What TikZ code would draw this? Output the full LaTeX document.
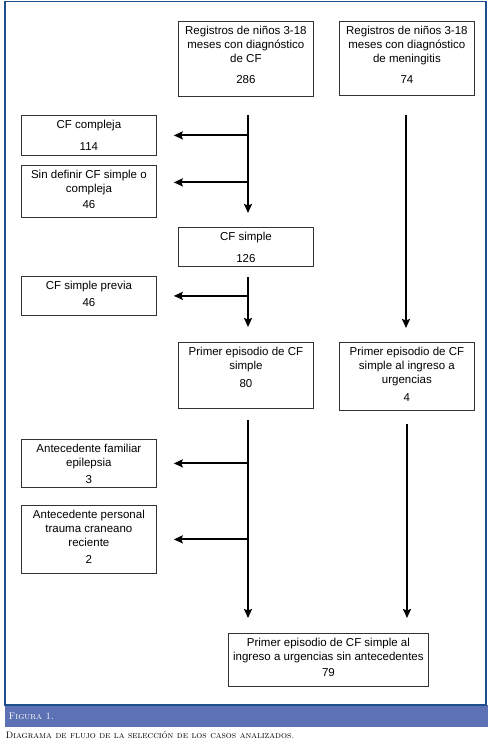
\documentclass[tikz,border=0pt]{standalone}
\usepackage{fontspec}
\newfontfamily\arial{Liberation Sans}
\usepackage{tikz}
\usetikzlibrary{arrows.meta}
\definecolor{marco}{RGB}{31,78,140}
\definecolor{banda}{RGB}{92,114,181}
\tikzset{%
    caja/.style={draw=black!80,line width=0.8pt,inner sep=0pt,anchor=north west,
        font=\arial\fontsize{11.5}{14}\selectfont},
    flecha/.style={line width=2pt,-{Stealth[length=9pt,width=8pt,inset=1.5pt]}}
}
\newcommand{\texto}[3]{\parbox[c][#2pt][t]{#1pt}{\centering\vspace*{4.5pt}#3}}

\begin{document}
\begin{tikzpicture}[x=1pt,y=-1pt]
            \useasboundingbox (0,0) rectangle (491,743);
            \fill[banda] (5,705) rectangle (488,727);
            \draw[marco,line width=1.5pt] (5,1.5) rectangle (486,705);
            \node[anchor=west,text=white,font=\fontsize{9.6}{10}\selectfont\scshape] (fig) at (5,716) {Figura 1.};
            \node[anchor=west,font=\fontsize{9.4}{10}\selectfont\scshape] (leyenda) at (2,735) {Diagrama de flujo de la selección de los casos analizados.};

            \node[caja] (reg) at (178,21) {\texto{135}{75}{Registros de niños 3-18\\meses con diagnóstico\\de CF\\[7pt]286}};
            \node[caja] (men) at (339,21) {\texto{135}{74}{Registros de niños 3-18\\meses con diagnóstico\\de meningitis\\[7pt]74}};
            \node[caja] (compleja) at (21,115) {\texto{135}{40}{CF compleja\\[8pt]114}};
            \node[caja] (sindef) at (21,165) {\texto{135}{52}{Sin definir CF simple o\\compleja\\[2pt]46}};
            \node[caja] (simple) at (178,227) {\texto{135}{39}{CF simple\\[8pt]126}};
            \node[caja] (previa) at (21,276) {\texto{135}{39}{CF simple previa\\[3pt]46}};
            \node[caja] (primer) at (178,342) {\texto{135}{66}{Primer episodio de CF\\simple\\[4pt]80}};
            \node[caja] (primerurg) at (339,342) {\texto{135}{68}{Primer episodio de CF\\simple al ingreso a\\urgencias\\[4pt]4}};
            \node[caja] (familiar) at (21,439) {\texto{135}{48}{Antecedente familiar\\epilepsia\\[3pt]3}};
            \node[caja] (personal) at (21,505) {\texto{135}{68}{Antecedente personal\\trauma craneano\\reciente\\[3pt]2}};
            \node[caja] (final) at (228,633) {\texto{200}{53}{Primer episodio de CF simple al\\ingreso a urgencias sin antecedentes\\[2pt]79}};

            \coordinate (a1) at (248,115);
            \coordinate (a2) at (248,213);
            \coordinate (a3) at (248,277);
            \coordinate (a4) at (248,327);
            \coordinate (a5) at (248,420);
            \coordinate (a6) at (248,618);
            \coordinate (b1) at (406,115);
            \coordinate (b2) at (406,328);
            \coordinate (b3) at (407,424);
            \coordinate (b4) at (407,618);
            \coordinate (r2) at ([xshift=17pt,yshift=9pt]sindef.east);

            \draw[flecha] (a1) -- (a2);
            \draw[flecha] (a1 |- compleja.east) -- ([xshift=17pt]compleja.east);
            \draw[flecha] (a1 |- r2) -- (r2);
            \draw[flecha] (a3) -- (a4);
            \draw[flecha] (a3 |- previa.east) -- ([xshift=17pt]previa.east);
            \draw[flecha] (a5) -- (a6);
            \draw[flecha] (a5 |- familiar.east) -- ([xshift=17pt]familiar.east);
            \draw[flecha] (a5 |- personal.east) -- ([xshift=17pt]personal.east);
            \draw[flecha] (b1) -- (b2);
            \draw[flecha] (b3) -- (b4);
        \end{tikzpicture}
\end{document}
